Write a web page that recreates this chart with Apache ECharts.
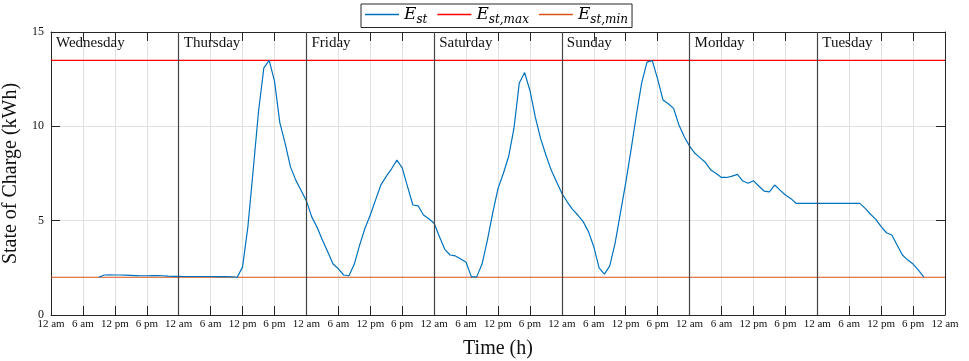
<!DOCTYPE html>
<html><head><meta charset="utf-8">
<script src="https://cdn.jsdelivr.net/npm/echarts@6/dist/echarts.min.js"></script>
<style>html,body{margin:0;padding:0;background:#fff}#c{width:969px;height:361px}</style>
</head><body><div id="c"></div>
<script>
// State of charge, hourly, starting at hour 9 (Wednesday 9 am)
const startHour = 9;
const socValues = [
  2.00, 2.12, 2.13, 2.12, 2.12, 2.11, 2.10, 2.09, 2.08, 2.08, 2.09, 2.09, 2.08, 2.06, 2.05,
  2.05, 2.04, 2.04, 2.04, 2.04, 2.04, 2.04, 2.03, 2.03, 2.03, 2.02, 2.00,
  2.55, 4.68, 7.70, 10.8, 13.1, 13.5, 12.4, 10.2, 9.10, 7.85, 7.15, 6.60,
  6.05, 5.20, 4.65, 3.97, 3.35, 2.70, 2.45, 2.12, 2.08, 2.70, 3.70, 4.60,
  5.30, 6.10, 6.90, 7.35, 7.75, 8.21, 7.80, 6.80, 5.83, 5.78, 5.30, 5.10,
  4.86, 4.15, 3.48, 3.18, 3.13, 2.97, 2.80, 2.02, 2.02, 2.70, 3.95, 5.40,
  6.70, 7.50, 8.40, 9.90, 12.3, 12.85, 11.9, 10.5, 9.36, 8.48, 7.68, 7.06,
  6.45, 6.00, 5.60, 5.30, 4.95, 4.42, 3.62, 2.50, 2.17, 2.60, 3.80, 5.40,
  7.00, 8.75, 10.6, 12.3, 13.4, 13.48, 12.5, 11.4, 11.2, 10.95, 10.07, 9.45,
  8.95, 8.57, 8.33, 8.08, 7.68, 7.50, 7.29, 7.29, 7.36, 7.45, 7.10, 6.98,
  7.12, 6.84, 6.57, 6.53, 6.89, 6.62, 6.36, 6.18, 5.92, 5.92, 5.92, 5.92,
  5.92, 5.92, 5.92, 5.92, 5.92, 5.92, 5.92, 5.92, 5.92, 5.65, 5.34, 5.07,
  4.68, 4.36, 4.24, 3.71, 3.18, 2.91, 2.70, 2.38, 2.02
];
const dayNames = ['Wednesday', 'Thursday', 'Friday', 'Saturday', 'Sunday', 'Monday', 'Tuesday'];
const hourTickLabels = ['12 am', '6 am', '12 pm', '6 pm'];
const dayBoundaries = [24, 48, 72, 96, 120, 144];
const eMax = 13.5;
const eMin = 2;
const xMin = 0, xMax = 168, xStep = 6;
const yMin = 0, yMax = 15, yStep = 5;

const serif = 'Liberation Serif';
const axisColor = '#262626';
const socData = socValues.map((v, i) => [startHour + i, v]);

const chart = echarts.init(document.getElementById('c'));
const legendRich = {
  e: { fontFamily: 'DejaVu Serif', fontStyle: 'italic', fontSize: 17, color: '#000', lineHeight: 22, verticalAlign: 'middle' },
  s: { fontFamily: 'DejaVu Serif', fontStyle: 'italic', fontSize: 12, color: '#000', lineHeight: 22, verticalAlign: 'bottom' }
};
const legendLabels = { 'E_st': '{e|E}{s|st}', 'E_st,max': '{e|E}{s|st,max}', 'E_st,min': '{e|E}{s|st,min}' };

const lineAxis = { show: true, onZero: false, lineStyle: { color: axisColor, width: 1 } };
const tickIn = { show: true, inside: true, length: 9, lineStyle: { color: axisColor } };

chart.setOption({
  animation: false,
  grid: { left: 51, right: 24, top: 32, bottom: 46, containLabel: false, outerBoundsMode: 'none' },
  legend: {
    data: ['E_st', 'E_st,max', 'E_st,min'],
    left: 361, top: 4,
    padding: [2, 4, 2, 4],
    itemGap: 10,
    icon: 'rect',
    itemWidth: 34, itemHeight: 1.3,
    borderColor: axisColor, borderWidth: 1,
    backgroundColor: '#fff',
    z: 10,
    formatter: n => legendLabels[n],
    textStyle: { rich: legendRich }
  },
  xAxis: [
    {
      type: 'value', position: 'bottom', min: xMin, max: xMax, interval: xStep,
      axisLine: lineAxis,
      axisTick: tickIn,
      axisLabel: {
        margin: 4, fontFamily: serif, fontSize: 11, color: '#111',
        formatter: v => hourTickLabels[(v % 24) / 6]
      },
      splitLine: { show: true, lineStyle: { color: '#e0e0e0', width: 1 } },
      name: 'Time (h)', nameLocation: 'middle', nameGap: 24,
      nameTextStyle: { fontFamily: serif, fontSize: 20, color: '#111' }
    },
    {
      type: 'value', position: 'top', min: xMin, max: xMax, interval: xStep,
      axisLine: lineAxis,
      axisTick: tickIn,
      axisLabel: {
        inside: true, margin: 4, align: 'left', padding: [0, 0, 0, 5],
        fontFamily: serif, fontSize: 15, color: '#111',
        formatter: v => (v % 24 === 0 && v < xMax) ? dayNames[v / 24] : ''
      },
      splitLine: { show: false }
    }
  ],
  yAxis: [
    {
      type: 'value', position: 'left', min: yMin, max: yMax, interval: yStep,
      axisLine: lineAxis,
      axisTick: tickIn,
      axisLabel: { margin: 7, fontFamily: serif, fontSize: 12, color: '#111' },
      splitLine: { show: true, lineStyle: { color: '#e0e0e0', width: 1 } },
      name: 'State of Charge (kWh)', nameLocation: 'middle', nameRotate: 90, nameGap: 18,
      nameTextStyle: { fontFamily: serif, fontSize: 20, color: '#111' }
    },
    {
      type: 'value', position: 'right', min: yMin, max: yMax, interval: yStep,
      axisLine: lineAxis,
      axisTick: tickIn,
      axisLabel: { show: false },
      splitLine: { show: false }
    }
  ],
  series: [
    {
      name: 'E_st', type: 'line', data: socData, showSymbol: false, symbol: 'none',
      lineStyle: { color: '#0072BD', width: 1.2 }, itemStyle: { color: '#0072BD' }, z: 4
    },
    {
      name: 'E_st,max', type: 'line', data: [[xMin, eMax], [xMax, eMax]], showSymbol: false, symbol: 'none',
      lineStyle: { color: '#FF0000', width: 1.2 }, itemStyle: { color: '#FF0000' }, z: 3,
      markLine: {
        silent: true, symbol: 'none', label: { show: false },
        lineStyle: { color: '#444', width: 1.2, type: 'solid' },
        data: dayBoundaries.map(d => ({ xAxis: d }))
      }
    },
    {
      name: 'E_st,min', type: 'line', data: [[xMin, eMin], [xMax, eMin]], showSymbol: false, symbol: 'none',
      lineStyle: { color: '#D95319', width: 1.2 }, itemStyle: { color: '#D95319' }, z: 3
    }
  ]
});
</script></body></html>
